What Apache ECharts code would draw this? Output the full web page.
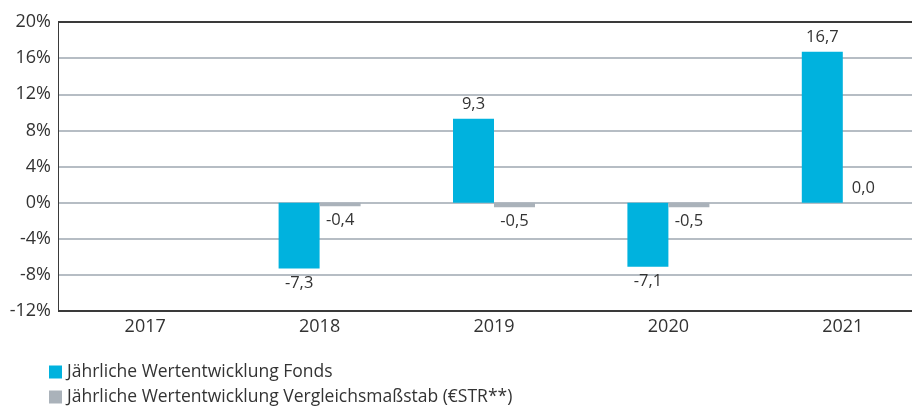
<!DOCTYPE html>
<html>
<head>
<meta charset="utf-8">
<script src="https://cdn.jsdelivr.net/npm/echarts@6/dist/echarts.min.js"></script>
<style>
  html, body { margin: 0; padding: 0; background: #fff; overflow: hidden; }
  /* Diagramm etwas breiter als das Fenster: rechter Rand liegt ausserhalb */
  #chart { width: 930px; height: 406px; }
</style>
</head>
<body>
<div id="chart"></div>
<script>
// Jahre und Werte (in %)
let years = ['2017', '2018', '2019', '2020', '2021'];
let fonds = [null, -7.3, 9.3, -7.1, 16.7];
let vergleich = [null, -0.4, -0.5, -0.5, 0.0];
let seriesNames = [
    'Jährliche Wertentwicklung Fonds',
    'Jährliche Wertentwicklung Vergleichsmaßstab (€STR**)'
];

const font = 'Open Sans';
const txt = '#333333';
const gridGray = '#b6bdc4';
const dark = '#3a3a3a';

// Linienfarben je Tick: unten und oben dunkel, sonst grau
let lineColors = [dark, gridGray, gridGray, gridGray, gridGray, gridGray, gridGray, gridGray, dark];

function komma(p) {
    if (p.value === null || p.value === undefined) return '';
    return p.value.toFixed(1).replace('.', ',');
}

function labelled(values) {
    return values.map(v => ({
        value: v,
        label: { position: v < 0 ? 'bottom' : 'top' }
    }));
}

function legendFor(name, top) {
    return {
        left: 44,
        top: top,
        icon: 'rect',
        itemWidth: 13,
        itemHeight: 13,
        itemGap: 6,
        textStyle: { fontFamily: font, fontSize: 17.5, color: txt },
        data: [name]
    };
}

let options = {
    animation: false,
    grid: {
        left: 58,
        right: 0,
        top: 22,
        bottom: 95
    },
    legend: [
        legendFor(seriesNames[0], 358),
        legendFor(seriesNames[1], 383)
    ],
    xAxis: {
        type: 'category',
        data: years,
        axisLine: { show: false },
        axisTick: { show: false },
        axisLabel: { fontFamily: font, fontSize: 18, color: txt, margin: 7 }
    },
    yAxis: {
        type: 'value',
        min: -12,
        max: 20,
        interval: 4,
        axisLine: { show: true, lineStyle: { color: dark, width: 1 } },
        axisTick: { show: false },
        axisLabel: {
            fontFamily: font, fontSize: 18, color: txt, margin: 7,
            formatter: v => v + '%'
        },
        splitLine: { lineStyle: { color: lineColors, width: 2 } }
    },
    series: [
        {
            name: seriesNames[0],
            type: 'bar',
            barWidth: 41,
            barGap: '0%',
            itemStyle: { color: '#00b2de' },
            label: {
                show: true, fontFamily: font, fontSize: 16.5, color: txt,
                distance: 6, formatter: komma
            },
            data: labelled(fonds)
        },
        {
            name: seriesNames[1],
            type: 'bar',
            barWidth: 41,
            barGap: '0%',
            itemStyle: { color: '#aab2ba' },
            label: {
                show: true, fontFamily: font, fontSize: 16.5, color: txt,
                distance: 6, formatter: komma
            },
            data: labelled(vergleich)
        }
    ]
};

let chart = echarts.init(document.getElementById('chart'));
chart.setOption(options);
</script>
</body>
</html>
